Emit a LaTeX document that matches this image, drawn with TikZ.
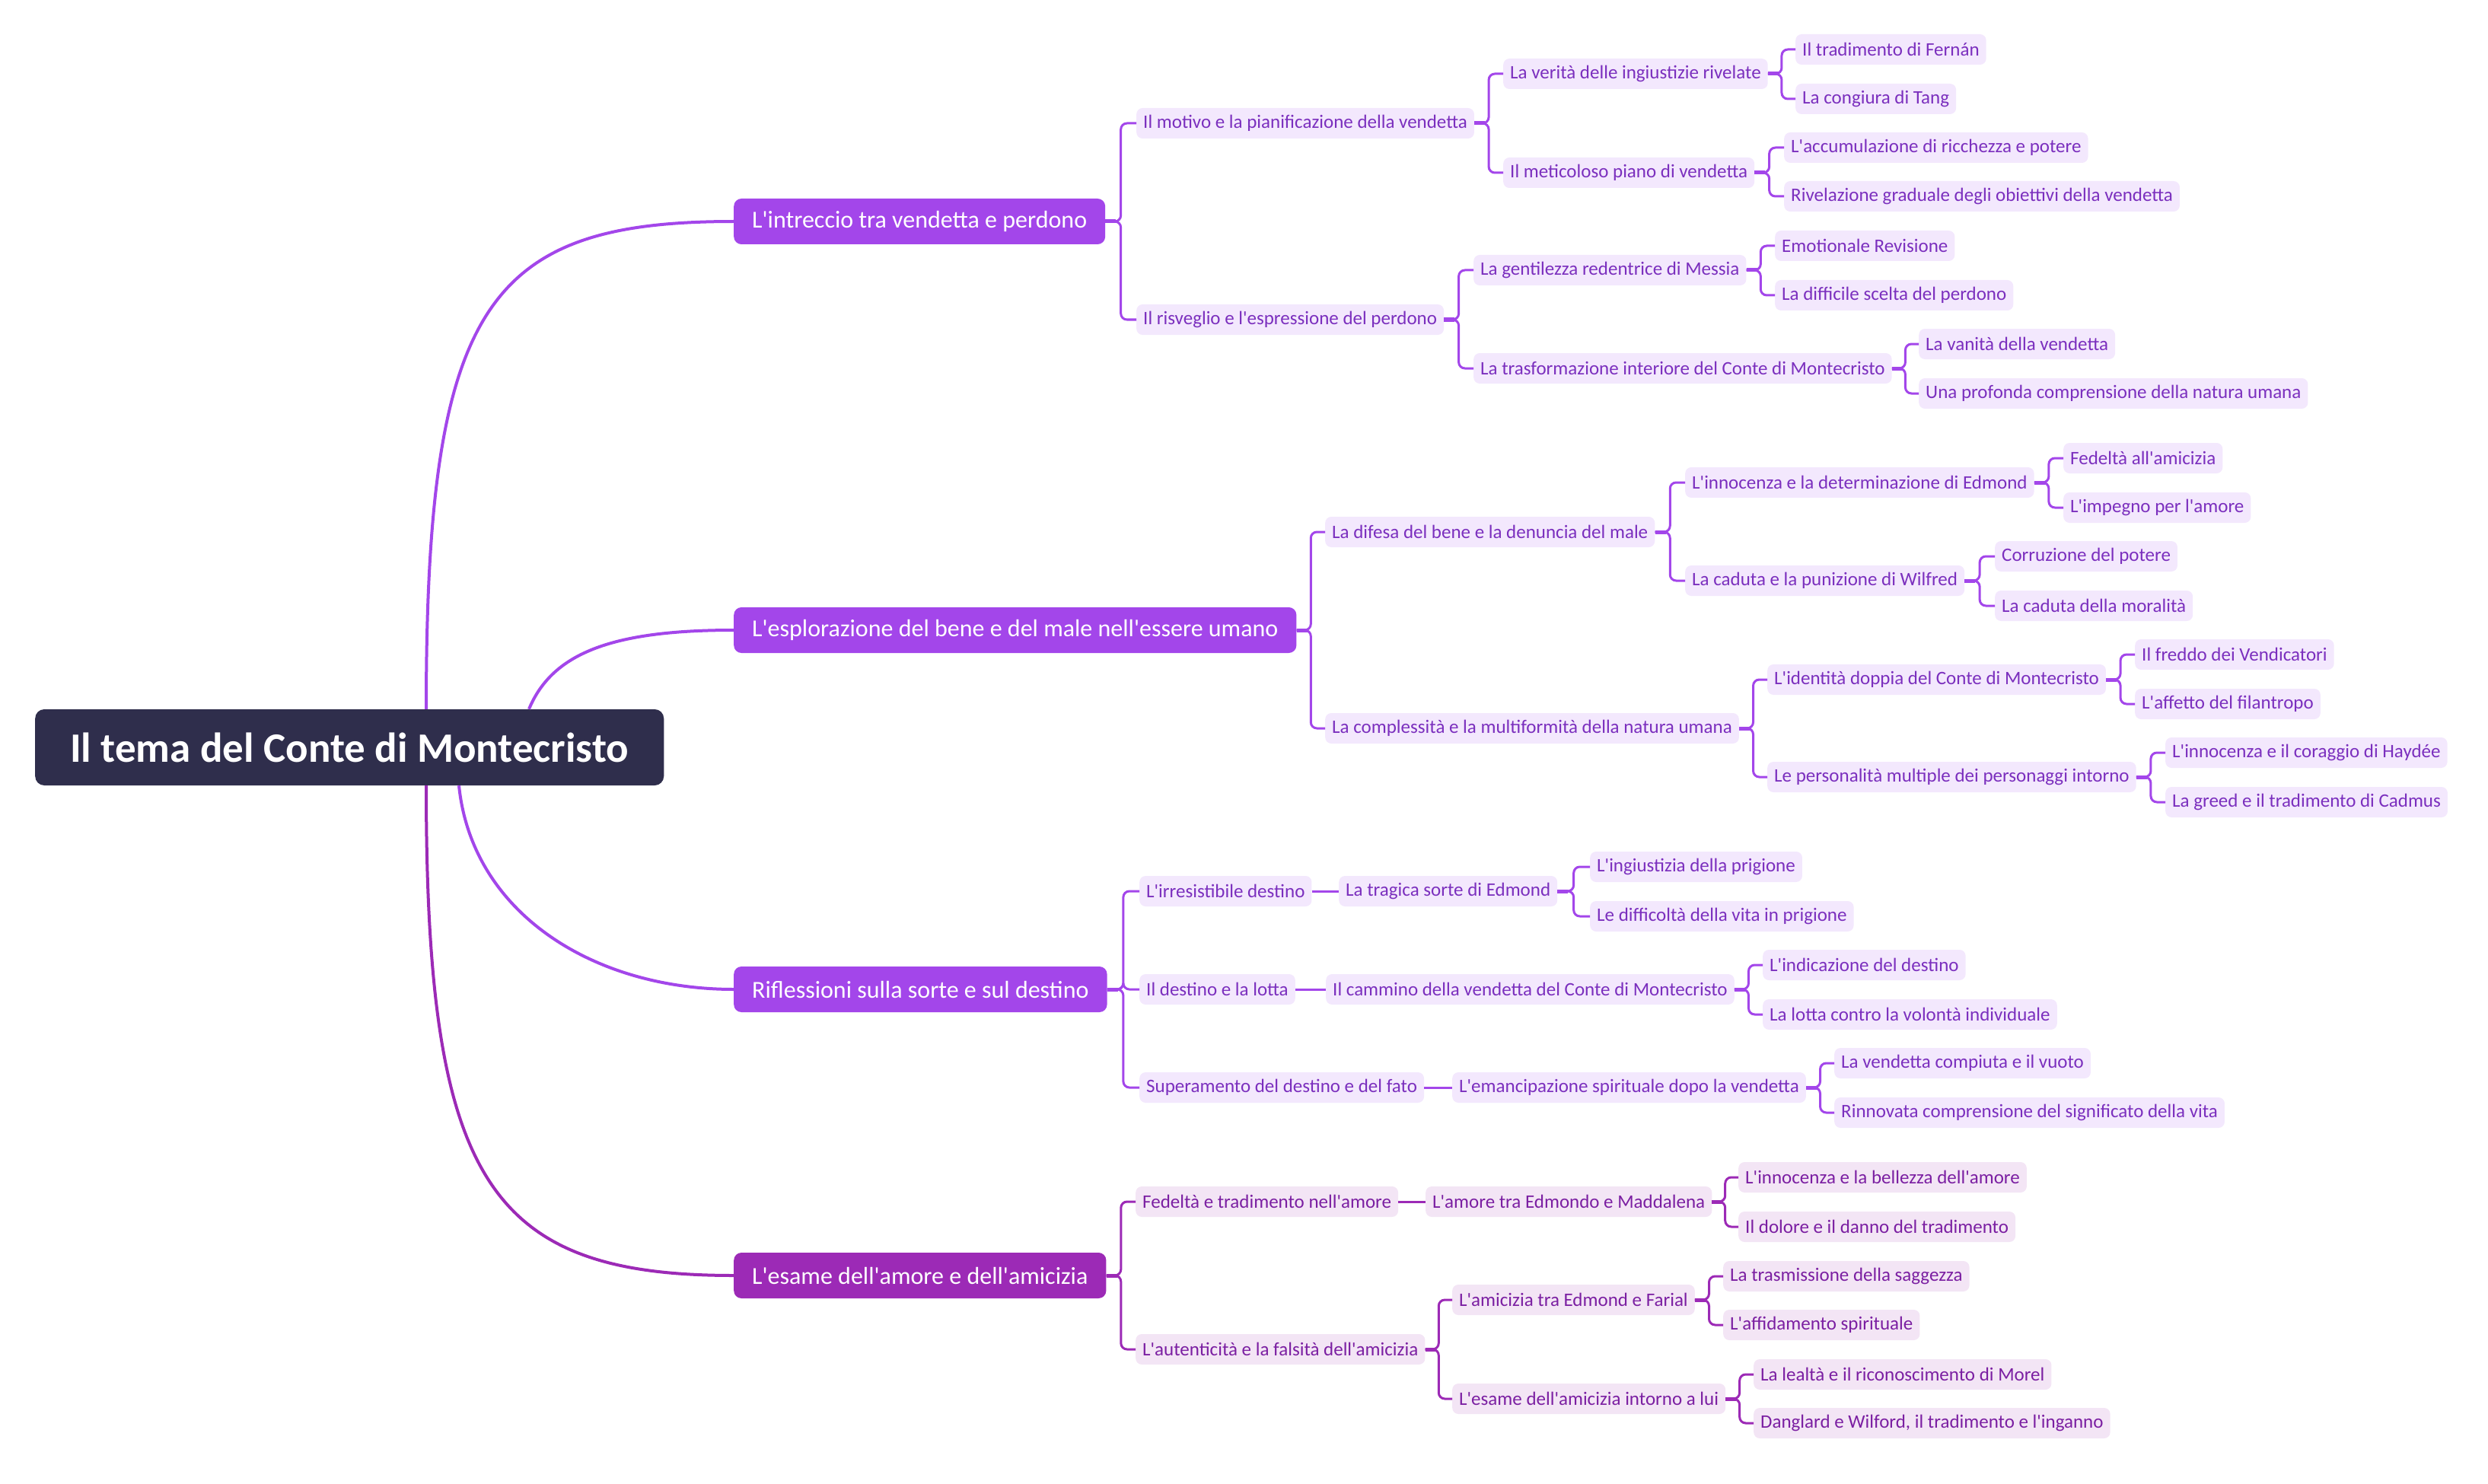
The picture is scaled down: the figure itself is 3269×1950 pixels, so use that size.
\documentclass[tikz,border=0pt]{standalone}
\usepackage{fontspec}
\newfontfamily\mapfont{Carlito}
\usetikzlibrary{calc}

\definecolor{rootbg}{HTML}{2F2E4C}
\definecolor{violet1}{HTML}{A346EA}
\definecolor{violet2}{HTML}{9C2AB6}
\definecolor{leafbg}{HTML}{F3E8FD}
\definecolor{leaftx}{HTML}{7B2FBE}
\definecolor{leafbg2}{HTML}{F3E5F5}
\definecolor{leaftx2}{HTML}{7B1FA2}

\begin{document}
\begin{tikzpicture}[x=1pt,y=-1pt,
  root/.style={fill=rootbg, text=white, rounded corners=12pt, anchor=west,
    minimum height=100pt, inner xsep=46pt, font=\mapfont\bfseries\fontsize{55}{64}\selectfont},
  topic/.style={fill=#1, text=white, rounded corners=10pt, anchor=west,
    minimum height=60pt, inner xsep=24pt, font=\mapfont\fontsize{32}{38}\selectfont},
  leaf/.style={fill=leafbg, text=leaftx, rounded corners=8pt, anchor=west,
    minimum height=40pt, inner xsep=9pt, font=\mapfont\fontsize{25}{30}\selectfont},
  leafb/.style={leaf, fill=leafbg2, text=leaftx2},
  trunk/.style={draw=#1, line width=4pt},
  link/.style={draw=#1, line width=3pt, rounded corners=8pt},
  stub/.style={draw=#1, line width=5pt}]
  \useasboundingbox (0,0) rectangle (3269,1950);

  % root and main topics
  \node[root] (t) at (46,982) {Il tema del Conte di Montecristo};
  \node[topic=violet1] (v) at (964,291) {L'intreccio tra vendetta e perdono};
  \node[topic=violet1] (b) at (964,828) {L'esplorazione del bene e del male nell'essere umano};
  \node[topic=violet1] (s) at (964,1300) {Riflessioni sulla sorte e sul destino};
  \node[topic=violet2] (a) at (964,1676) {L'esame dell'amore e dell'amicizia};

  \draw[trunk=violet1] ([xshift=514pt]t.north west) .. controls (560,400) and (640,291) .. (v.west);
  \draw[trunk=violet1] ([xshift=649pt]t.north west) .. controls (725,860) and (800,828) .. (b.west);
  \draw[trunk=violet1] ([xshift=557pt]t.south west) .. controls (620,1200) and (780,1300) .. (s.west);
  \draw[trunk=violet2] ([xshift=514pt]t.south west) .. controls (560,1550) and (640,1676) .. (a.west);

  % vendetta e perdono
  \node[leaf] (v1) at (1493,162) {Il motivo e la pianificazione della vendetta};
  \node[leaf] (v11) at (1975,97) {La verità delle ingiustizie rivelate};
  \node[leaf] (v111) at (2359,65) {Il tradimento di Fernán};
  \node[leaf] (v112) at (2359,130) {La congiura di Tang};
  \node[leaf] (v12) at (1975,227) {Il meticoloso piano di vendetta};
  \node[leaf] (v121) at (2344,194) {L'accumulazione di ricchezza e potere};
  \node[leaf] (v122) at (2344,258) {Rivelazione graduale degli obiettivi della vendetta};
  \node[leaf] (v2) at (1493,420) {Il risveglio e l'espressione del perdono};
  \node[leaf] (v21) at (1936,355) {La gentilezza redentrice di Messia};
  \node[leaf] (v211) at (2332,323) {Emotionale Revisione};
  \node[leaf] (v212) at (2332,388) {La difficile scelta del perdono};
  \node[leaf] (v22) at (1936,484) {La trasformazione interiore del Conte di Montecristo};
  \node[leaf] (v221) at (2521,452) {La vanità della vendetta};
  \node[leaf] (v222) at (2521,517) {Una profonda comprensione della natura umana};

  % bene e male
  \node[leaf] (b1) at (1741,699) {La difesa del bene e la denuncia del male};
  \node[leaf] (b11) at (2214,634) {L'innocenza e la determinazione di Edmond};
  \node[leaf] (b111) at (2711,602) {Fedeltà all'amicizia};
  \node[leaf] (b112) at (2711,667) {L'impegno per l'amore};
  \node[leaf] (b12) at (2214,763) {La caduta e la punizione di Wilfred};
  \node[leaf] (b121) at (2621,731) {Corruzione del potere};
  \node[leaf] (b122) at (2621,796) {La caduta della moralità};
  \node[leaf] (b2) at (1741,957) {La complessità e la multiformità della natura umana};
  \node[leaf] (b21) at (2322,893) {L'identità doppia del Conte di Montecristo};
  \node[leaf] (b211) at (2805,860) {Il freddo dei Vendicatori};
  \node[leaf] (b212) at (2805,925) {L'affetto del filantropo};
  \node[leaf] (b22) at (2322,1021) {Le personalità multiple dei personaggi intorno};
  \node[leaf] (b221) at (2845,989) {L'innocenza e il coraggio di Haydée};
  \node[leaf] (b222) at (2845,1054) {La greed e il tradimento di Cadmus};

  % sorte e destino
  \node[leaf] (s1) at (1497,1171) {L'irresistibile destino};
  \node[leaf] (s11) at (1759,1171) {La tragica sorte di Edmond};
  \node[leaf] (s111) at (2089,1139) {L'ingiustizia della prigione};
  \node[leaf] (s112) at (2089,1204) {Le difficoltà della vita in prigione};
  \node[leaf] (s2) at (1497,1300) {Il destino e la lotta};
  \node[leaf] (s21) at (1742,1300) {Il cammino della vendetta del Conte di Montecristo};
  \node[leaf] (s211) at (2316,1268) {L'indicazione del destino};
  \node[leaf] (s212) at (2316,1333) {La lotta contro la volontà individuale};
  \node[leaf] (s3) at (1497,1429) {Superamento del destino e del fato};
  \node[leaf] (s31) at (1908,1429) {L'emancipazione spirituale dopo la vendetta};
  \node[leaf] (s311) at (2410,1397) {La vendetta compiuta e il vuoto};
  \node[leaf] (s312) at (2410,1462) {Rinnovata comprensione del significato della vita};

  % amore e amicizia
  \node[leafb] (a1) at (1492,1579) {Fedeltà e tradimento nell'amore};
  \node[leafb] (a11) at (1873,1579) {L'amore tra Edmondo e Maddalena};
  \node[leafb] (a111) at (2284,1547) {L'innocenza e la bellezza dell'amore};
  \node[leafb] (a112) at (2284,1612) {Il dolore e il danno del tradimento};
  \node[leafb] (a2) at (1492,1773) {L'autenticità e la falsità dell'amicizia};
  \node[leafb] (a21) at (1908,1708) {L'amicizia tra Edmond e Farial};
  \node[leafb] (a211) at (2264,1677) {La trasmissione della saggezza};
  \node[leafb] (a212) at (2264,1741) {L'affidamento spirituale};
  \node[leafb] (a22) at (1908,1838) {L'esame dell'amicizia intorno a lui};
  \node[leafb] (a221) at (2304,1806) {La lealtà e il riconoscimento di Morel};
  \node[leafb] (a222) at (2304,1870) {Danglard e Wilford, il tradimento e l'inganno};

  % elbow links
  \foreach \p/\c in {v/v1,v/v2,v1/v11,v1/v12,v11/v111,v11/v112,v12/v121,v12/v122,
      v2/v21,v2/v22,v21/v211,v21/v212,v22/v221,v22/v222,
      b/b1,b/b2,b1/b11,b1/b12,b11/b111,b11/b112,b12/b121,b12/b122,
      b2/b21,b2/b22,b21/b211,b21/b212,b22/b221,b22/b222,
      s/s1,s/s2,s/s3,s11/s111,s11/s112,s21/s211,s21/s212,s31/s311,s31/s312}
  {
    \draw[link=violet1] (\p.east) -| ($(\p.east)!.5!(\c.west)$) |- (\c.west);
    \draw[stub=violet1] (\p.east) -- ++(14,0);
  }
  \foreach \p/\c in {a/a1,a/a2,a11/a111,a11/a112,a2/a21,a2/a22,
      a21/a211,a21/a212,a22/a221,a22/a222}
  {
    \draw[link=violet2] (\p.east) -| ($(\p.east)!.5!(\c.west)$) |- (\c.west);
    \draw[stub=violet2] (\p.east) -- ++(14,0);
  }
  % straight links
  \foreach \p/\c in {s1/s11,s2/s21,s3/s31}
    \draw[link=violet1] (\p.east) -- (\c.west);
  \draw[link=violet2] (a1.east) -- (a11.west);
\end{tikzpicture}
\end{document}
